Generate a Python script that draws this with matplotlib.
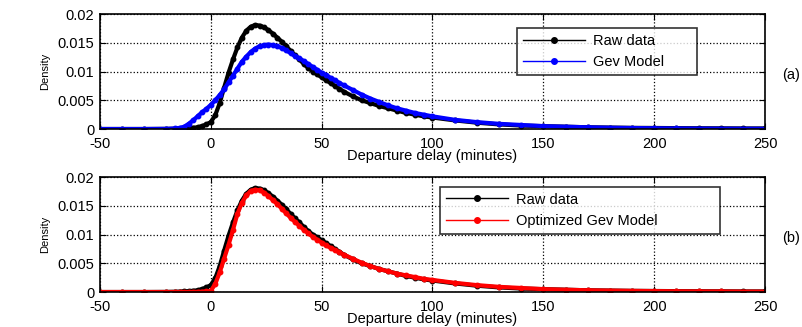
import matplotlib.pyplot as plt
from matplotlib.lines import Line2D

plt.rcParams['font.family'] = ['Liberation Sans', 'DejaVu Sans']
plt.rcParams['axes.unicode_minus'] = False

# departure delay (minutes) and densities
delay = [-50, -40, -30, -20, -16, -14, -12, -10, -8, -6, -4, -2, 0, 2, 4, 6, 8, 10, 12, 14,
         16, 18, 20, 22, 24, 26, 28, 30, 32, 34, 36, 38, 40, 42, 44, 46, 48, 50, 52, 54,
         56, 58, 60, 64, 68, 72, 76, 80, 84, 88, 92, 96, 100, 110, 120, 130, 140, 150, 160, 170,
         180, 190, 200, 210, 220, 230, 240, 250]

raw = [0, 0, 0, 0.00002, 0.00005, 0.00008, 0.0001, 0.00015, 0.00022, 0.0003, 0.0005, 0.0008, 0.0012, 0.0024, 0.0045, 0.0072, 0.0098, 0.0121, 0.0142, 0.0159,
       0.0171, 0.0178, 0.0181, 0.0180, 0.0177, 0.0172, 0.0166, 0.0159, 0.0152, 0.0144, 0.0136, 0.0128, 0.0121, 0.0113, 0.0106, 0.0100, 0.0095, 0.0090, 0.0085, 0.0080,
       0.0075, 0.0070, 0.0065, 0.0057, 0.0050, 0.0045, 0.0040, 0.0036, 0.0032, 0.0028, 0.0025, 0.0022, 0.0020, 0.0015, 0.0011, 0.0008, 0.0006, 0.0005, 0.0004, 0.0003,
       0.00025, 0.0002, 0.00018, 0.00015, 0.00013, 0.00012, 0.0001, 0.0001]

gev = [0, 0, 0, 0.00003, 0.0001, 0.0002, 0.0004, 0.0009, 0.0015, 0.0022, 0.0029, 0.0035, 0.0042, 0.0050, 0.0059, 0.0069, 0.0081, 0.0093, 0.0105, 0.0117,
       0.0126, 0.0134, 0.0140, 0.0144, 0.0146, 0.0147, 0.0146, 0.0144, 0.0141, 0.0137, 0.0132, 0.0127, 0.0123, 0.0118, 0.0113, 0.0108, 0.0103, 0.0098, 0.0094, 0.0089,
       0.0085, 0.0080, 0.0076, 0.0068, 0.0060, 0.0053, 0.0047, 0.0041, 0.0036, 0.0032, 0.0028, 0.0025, 0.0022, 0.0016, 0.0012, 0.0009, 0.0007, 0.0005, 0.0004, 0.0003,
       0.00022, 0.00017, 0.00013, 0.0001, 0.00008, 0.00006, 0.00005, 0.00004]

opt_gev = [0, 0, 0, 0, 0, 0, 0, 0, 0.00001, 0.00003, 0.00006, 0.0001, 0.0002, 0.0014, 0.0034, 0.0058, 0.0082, 0.0108, 0.0136, 0.0155,
           0.0168, 0.0176, 0.0178, 0.0177, 0.0173, 0.0167, 0.0160, 0.0153, 0.0145, 0.0137, 0.0129, 0.0122, 0.0115, 0.0108, 0.0102, 0.0096, 0.0091, 0.0086, 0.0081, 0.0077,
           0.0073, 0.0069, 0.0065, 0.0058, 0.0051, 0.0045, 0.0040, 0.0036, 0.0032, 0.0029, 0.0026, 0.0023, 0.0021, 0.0016, 0.0012, 0.0009, 0.0007, 0.0005, 0.0004, 0.0003,
           0.00025, 0.0002, 0.00016, 0.00013, 0.00011, 0.0001, 0.00008, 0.00007]

xticks = [-50, 0, 50, 100, 150, 200, 250]
yticks = [0, 0.005, 0.01, 0.015, 0.02]
ytick_labels = ['0', '0.005', '0.01', '0.015', '0.02']

fig = plt.figure(figsize=(8.03, 3.27), dpi=100)
ax1 = fig.add_axes([0.1245, 0.6055, 0.8282, 0.3515])
ax2 = fig.add_axes([0.1245, 0.107, 0.8282, 0.3515])

panels = [(ax1, gev, 'blue', 'Gev Model', '(a)', (0.627, 0.574, 0.271, 0.304)),
          (ax2, opt_gev, 'red', 'Optimized Gev Model', '(b)', (0.511, 0.611, 0.421, 0.305))]

for ax, model, col, name, tag, box in panels:
    ax.plot(delay, raw, color='black', lw=3, marker='o', ms=3.2, mec='black', mfc='black')
    ax.plot(delay, model, color=col, lw=3, marker='o', ms=3.2, mec=col, mfc=col)
    ax.set_xlim(-50, 250)
    ax.set_ylim(0, 0.02)
    ax.set_xticks(xticks)
    ax.set_yticks(yticks)
    ax.set_yticklabels(ytick_labels)
    ax.tick_params(direction='in', top=True, right=True, length=4, labelsize=10.5)
    ax.tick_params(axis='x', pad=5.5)
    ax.tick_params(axis='y', pad=4)
    ax.grid(True, linestyle=':', color='black', linewidth=0.9)
    for s in ax.spines.values():
        s.set_linewidth(1.2)
    ax.set_xlabel('Departure delay (minutes)', fontsize=10.5, labelpad=-1)
    ax.set_ylabel('Density', fontsize=8, labelpad=5)
    handles = [Line2D([], [], color='black', lw=1, marker='o', ms=4),
               Line2D([], [], color=col, lw=1, marker='o', ms=4)]
    leg = ax.legend(handles, ['Raw data', name], loc='upper left', bbox_to_anchor=box,
                    mode='expand', fontsize=10.5, frameon=True, fancybox=False,
                    edgecolor='black', handlelength=4.3, borderaxespad=0, handletextpad=0.5)
    leg.get_frame().set_linewidth(1.2)
    ax.text(1.053, 0.47, tag, transform=ax.transAxes, ha='right', va='center', fontsize=10.5)

fig.savefig('out.png', dpi=100)
